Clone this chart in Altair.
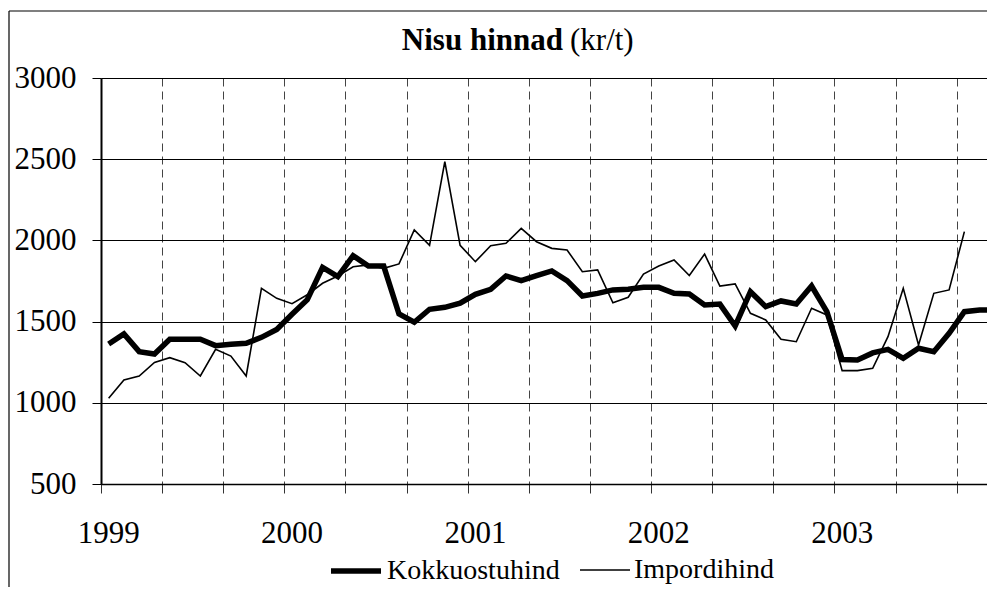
import altair as alt
import pandas as pd

# Monthly wheat prices (kr/t), Jan 1999 onwards
series_names = ["Kokkuostuhind", "Impordihind"]
kokku = [1362, 1424, 1315, 1300, 1391, 1391, 1391, 1352, 1360, 1366, 1403, 1452,
         1545, 1635, 1834, 1777, 1906, 1842, 1842, 1547, 1496, 1576, 1588, 1613,
         1668, 1699, 1781, 1752, 1783, 1812, 1752, 1658, 1674, 1695, 1699, 1711,
         1711, 1674, 1670, 1602, 1608, 1473, 1684, 1592, 1627, 1608, 1719, 1561,
         1266, 1264, 1307, 1329, 1274, 1336, 1315, 1428, 1561, 1571, 1571]
impord = [1028, 1140, 1165, 1249, 1278, 1247, 1165, 1329, 1288, 1165, 1705, 1643,
          1610, 1665, 1736, 1781, 1838, 1849, 1828, 1855, 2064, 1970, 2485, 1970,
          1869, 1967, 1982, 2074, 1992, 1951, 1941, 1807, 1818, 1616, 1650, 1793,
          1842, 1879, 1784, 1916, 1719, 1732, 1551, 1510, 1391, 1376, 1582, 1541,
          1198, 1198, 1212, 1407, 1705, 1356, 1674, 1695, 2054]
year_labels = ["1999", "2000", "2001", "2002", "2003"]
year_months = [0, 12, 24, 36, 48]
y_ticks = [500, 1000, 1500, 2000, 2500, 3000]

rows = []
for i, v in enumerate(kokku):
    rows.append({"month": i, "value": v, "series": series_names[0]})
for i, v in enumerate(impord):
    rows.append({"month": i, "value": v, "series": series_names[1]})
df = pd.DataFrame(rows)
df_years = pd.DataFrame({"month": year_months, "label": year_labels})
one = pd.DataFrame({"a": [0]})

FONT = "Liberation Serif"
x_scale = alt.Scale(domain=[-0.5, 57.48], nice=False, zero=False)
y_scale = alt.Scale(domain=[500, 3000], nice=False, zero=False)
grid_vals = [-0.5 + 4 * k for k in range(15)]

legend = alt.Legend(
    orient="none", legendX=227, legendY=465, direction="horizontal", title=None,
    symbolType="stroke", symbolSize=2500, labelFont=FONT, labelFontSize=28,
    labelColor="black", labelOffset=3, columnPadding=16, padding=0,
    labelLimit=400, symbolStrokeColor="black",
)

lines = alt.Chart(df).mark_line(clip=True).encode(
    x=alt.X("month:Q", scale=x_scale, title=None,
            axis=alt.Axis(values=grid_vals, labels=False, ticks=True, tickSize=9,
                          tickColor="#333", tickWidth=1, grid=True, gridDash=[8, 5],
                          gridColor="#444", gridWidth=1, domainColor="black",
                          domainWidth=1.5, title=None)),
    y=alt.Y("value:Q", scale=y_scale, title=None,
            axis=alt.Axis(values=y_ticks, format="d", tickSize=9, tickColor="black",
                          tickWidth=1, grid=True, gridColor="black", gridWidth=1,
                          domainColor="black", domainWidth=2, labelFont=FONT,
                          labelFontSize=31, labelColor="black", labelPadding=16,
                          title=None)),
    color=alt.Color("series:N", scale=alt.Scale(domain=series_names, range=["black", "black"]),
                    legend=legend),
    strokeWidth=alt.StrokeWidth("series:N", scale=alt.Scale(domain=series_names, range=[5.5, 1.6]),
                                legend=legend),
)

years = alt.Chart(df_years).mark_text(font=FONT, fontSize=31, color="black",
                                      baseline="alphabetic", align="center").encode(
    x=alt.X("month:Q", scale=x_scale, title=None),
    y=alt.value(465),
    text="label:N",
)

title_bold = alt.Chart(one).mark_text(font=FONT, fontSize=31, fontWeight="bold", color="black",
                                      align="right", baseline="alphabetic").encode(
    x=alt.value(462), y=alt.value(-28), text=alt.value("Nisu hinnad"))
title_norm = alt.Chart(one).mark_text(font=FONT, fontSize=31, color="black",
                                      align="left", baseline="alphabetic").encode(
    x=alt.value(469), y=alt.value(-28), text=alt.value("(kr/t)"))

border_left = alt.Chart(one).mark_rule(color="black", strokeWidth=1.2).encode(
    x=alt.value(-92), y=alt.value(-67), y2=alt.value(520))
border_top = alt.Chart(one).mark_rule(color="black", strokeWidth=1.2).encode(
    x=alt.value(-92), x2=alt.value(900), y=alt.value(-67))

chart = alt.layer(lines, years, title_bold, title_norm, border_left, border_top).properties(
    width=886, height=406,
    autosize=alt.AutoSizeParams(type="none"),
    padding={"left": 93, "top": 70, "right": 0, "bottom": 103},
    background="white",
).configure_view(stroke=None)

chart.save("out.html", embed_options={"renderer": "svg", "actions": False})
